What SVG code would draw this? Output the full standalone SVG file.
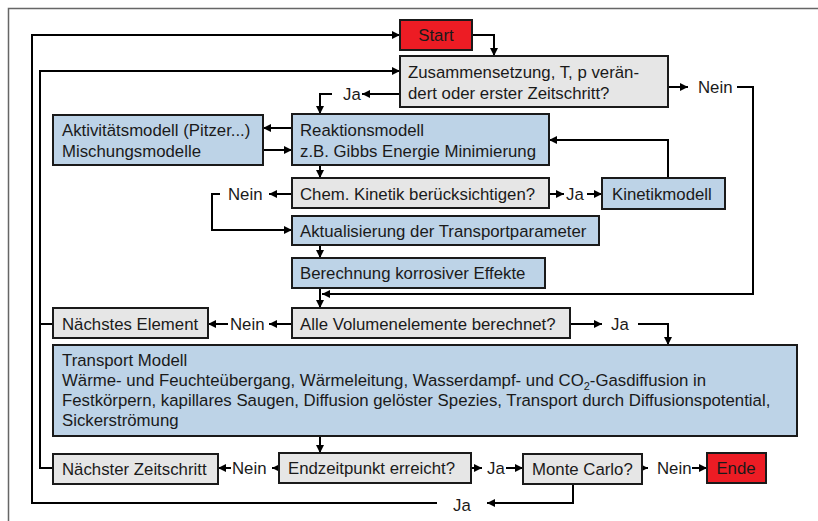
<svg xmlns="http://www.w3.org/2000/svg" width="818" height="521" viewBox="0 0 818 521">
<style>
text{font-family:"Liberation Sans",Arial,sans-serif;font-size:16.8px;fill:#1a1a1a}
.g{fill:#E6E6E6;stroke:#1a1a1a;stroke-width:2}
.b{fill:#BDD3E7;stroke:#1a1a1a;stroke-width:2}
.r{fill:#ED1C24;stroke:#1a1a1a;stroke-width:2}
.c path{fill:none;stroke:#000;stroke-width:2}
.a{marker-end:url(#ah)}
</style>
<defs>
<marker id="ah" markerUnits="userSpaceOnUse" markerWidth="9" markerHeight="8" refX="8" refY="4" orient="auto">
<path d="M0,0 L8,4 L0,8 z" fill="#000"/>
</marker>
</defs>
<rect width="818" height="521" fill="#fff"/>
<path d="M8.5,521 V8.5 H818" fill="none" stroke="#666" stroke-width="1.5"/>
<g class="c" id="connectors">
<path class="a" d="M472,35 H494 V56"/>
<path class="a" d="M573,484 V503 H487"/>
<path class="a" d="M437,503 H32 V35 H400"/>
<path class="a" d="M53,468 H40 V71 H400"/>
<path d="M53,324 H40"/>
<path class="a" d="M400,94 H362"/>
<path class="a" d="M332,94 H320 V114"/>
<path class="a" d="M668,87 H688"/>
<path class="a" d="M737,87 H753 V294 H322"/>
<path class="a" d="M292,128 H263"/>
<path class="a" d="M263,150 H292"/>
<path class="a" d="M320,165 V178"/>
<path class="a" d="M549,194 H564"/>
<path class="a" d="M587,194 H602"/>
<path class="a" d="M668,178 V140 H549"/>
<path class="a" d="M292,194 H269"/>
<path class="a" d="M220,194 H212 V230 H292"/>
<path class="a" d="M320,245 V258"/>
<path class="a" d="M320,288 V308"/>
<path class="a" d="M570,324 H602"/>
<path class="a" d="M638,324 H668 V345"/>
<path class="a" d="M292,324 H269"/>
<path class="a" d="M228,324 H208"/>
<path class="a" d="M320,436 V453"/>
<path class="a" d="M279,468 H272"/>
<path class="a" d="M231,468 H218"/>
<path class="a" d="M471,468 H482"/>
<path class="a" d="M506,468 H523"/>
<path class="a" d="M642,468 H648"/>
<path class="a" d="M692,468 H707"/>
</g>
<g id="labels">
<text x="343" y="100">Ja</text>
<text x="698" y="93">Nein</text>
<text x="566" y="200">Ja</text>
<text x="228" y="200">Nein</text>
<text x="611" y="330">Ja</text>
<text x="230" y="330">Nein</text>
<text x="232" y="474">Nein</text>
<text x="487" y="474">Ja</text>
<text x="657" y="474">Nein</text>
<text x="453" y="511">Ja</text>
</g>
<g id="start"><rect class="r" x="400" y="20" width="72" height="30"/><text x="436" y="41" text-anchor="middle">Start</text></g>
<g id="zusammensetzung"><rect class="g" x="400" y="56" width="268" height="51"/><text x="408" y="78">Zusammensetzung, T, p verän-</text><text x="408" y="99">dert oder erster Zeitschritt?</text></g>
<g id="aktivitaet"><rect class="b" x="53" y="115" width="210" height="50"/><text x="62" y="136">Aktivitätsmodell (Pitzer...)</text><text x="62" y="157">Mischungsmodelle</text></g>
<g id="reaktion"><rect class="b" x="292" y="114" width="257" height="51"/><text x="300" y="136">Reaktionsmodell</text><text x="300" y="157">z.B. Gibbs Energie Minimierung</text></g>
<g id="kinetik"><rect class="g" x="292" y="178" width="257" height="30"/><text x="300" y="200">Chem. Kinetik berücksichtigen?</text></g>
<g id="kinetikmodell"><rect class="b" x="602" y="178" width="123" height="31"/><text x="612" y="200">Kinetikmodell</text></g>
<g id="aktualisierung"><rect class="b" x="292" y="216" width="307" height="29"/><text x="300" y="237">Aktualisierung der Transportparameter</text></g>
<g id="berechnung"><rect class="b" x="292" y="258" width="253" height="30"/><text x="300" y="279">Berechnung korrosiver Effekte</text></g>
<g id="volumen"><rect class="g" x="292" y="308" width="278" height="30"/><text x="300" y="330">Alle Volumenelemente berechnet?</text></g>
<g id="naechstes-element"><rect class="g" x="53" y="308" width="155" height="30"/><text x="62" y="330">Nächstes Element</text></g>
<g id="transport"><rect class="b" x="53" y="345" width="744" height="91"/>
<text x="62" y="366">Transport Modell</text>
<text x="62" y="386">Wärme- und Feuchteübergang, Wärmeleitung, Wasserdampf- und CO<tspan font-size="11" dy="4">2</tspan><tspan dy="-4">-Gasdiffusion in</tspan></text>
<text x="62" y="406">Festkörpern, kapillares Saugen, Diffusion gelöster Spezies, Transport durch Diffusionspotential,</text>
<text x="62" y="426">Sickerströmung</text></g>
<g id="endzeit"><rect class="g" x="279" y="453" width="192" height="30"/><text x="288" y="474">Endzeitpunkt erreicht?</text></g>
<g id="naechster-zeitschritt"><rect class="g" x="53" y="454" width="165" height="30"/><text x="62" y="475">Nächster Zeitschritt</text></g>
<g id="montecarlo"><rect class="g" x="523" y="454" width="119" height="30"/><text x="532" y="475">Monte Carlo?</text></g>
<g id="ende"><rect class="r" x="707" y="453" width="59" height="30"/><text x="736" y="474" text-anchor="middle">Ende</text></g>
</svg>
